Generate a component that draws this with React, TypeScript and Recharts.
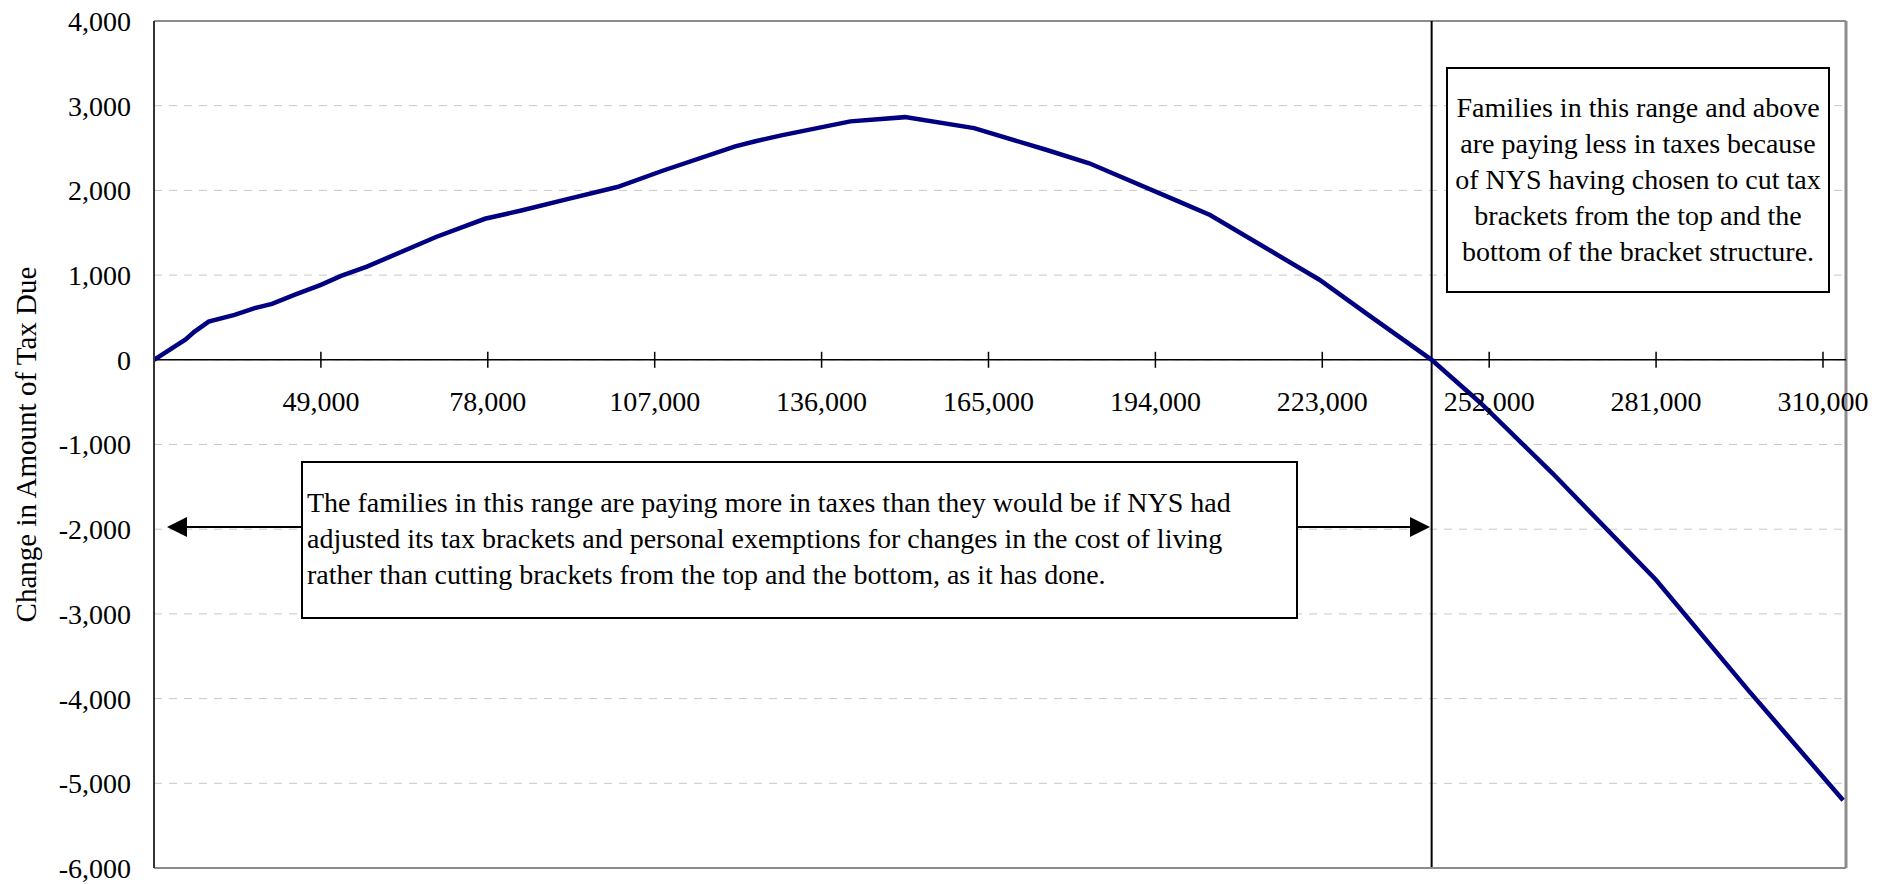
import React from 'react';
import { LineChart, Line, XAxis, YAxis, CartesianGrid, ReferenceLine } from 'recharts';

// income level and the change in tax due
const INCOME = [
  20000, 25500, 27000, 29500, 34000, 37500, 40500, 44500, 49000, 52500, 57000, 69000,
  77500, 84000, 92000, 100500, 108500, 121000, 124500, 129000, 141000, 150500, 162500,
  175000, 182500, 198000, 203500, 222500, 231000, 242000, 250500, 263000, 281000, 297000, 313500,
];
const TAX_CHANGE = [
  0, 240, 330, 450, 530, 610, 660, 770, 885, 990, 1100, 1450,
  1665, 1765, 1900, 2040, 2235, 2520, 2580, 2650, 2815, 2865, 2735,
  2480, 2320, 1870, 1710, 945, 530, 0, -510, -1340, -2600, -3900, -5200,
];

const X_TICKS = [49000, 78000, 107000, 136000, 165000, 194000, 223000, 252000, 281000, 310000];
const Y_TICKS = [-6000, -5000, -4000, -3000, -2000, -1000, 0, 1000, 2000, 3000, 4000];
const X_DOMAIN = [20000, 314000];
const Y_DOMAIN = [-6000, 4000];
const BREAK_EVEN = 242000;

const Y_LABEL = 'Change in Amount of Tax Due';
const NOTE_RIGHT = [
  'Families in this range and above',
  'are paying less in taxes because',
  'of NYS having chosen to cut tax',
  'brackets from the top and the',
  'bottom of the bracket structure.',
];
const NOTE_LEFT = [
  'The families in this range are paying more in taxes than they would be if NYS had',
  'adjusted its tax brackets and personal exemptions for changes in the cost of living',
  'rather than cutting brackets from the top and the bottom, as it has done.',
];

const data = INCOME.map((income, i) => ({ income, tax: TAX_CHANGE[i] }));

const W = 1891;
const H = 884;
const MARGIN = { top: 21, right: 45, bottom: 0, left: 0 };
const Y_AXIS_W = 154;
const X_AXIS_H = 16;
const PLOT_TOP = MARGIN.top;
const PLOT_H = H - MARGIN.top - MARGIN.bottom - X_AXIS_H;
const ZERO_Y = PLOT_TOP + (PLOT_H * Y_DOMAIN[1]) / (Y_DOMAIN[1] - Y_DOMAIN[0]);

const FONT = "'Times New Roman', 'Liberation Serif', serif";
const fmt = (v: number) => v.toLocaleString('en-US');

// x axis sits on the zero line, so the ticks are drawn there
function XTick(props: any) {
  const { x, payload } = props;
  return (
    <g>
      <line x1={x} x2={x} y1={ZERO_Y - 8} y2={ZERO_Y + 8} stroke="#000" strokeWidth={1.5} />
      <text x={x} y={ZERO_Y + 42} textAnchor="middle" dominantBaseline="central" fontFamily={FONT} fontSize={28} fill="#000">
        {fmt(payload.value)}
      </text>
    </g>
  );
}

function Arrow({ from, to, y }: { from: number; to: number; y: number }) {
  const dir = Math.sign(to - from);
  const back = to - dir * 20;
  return (
    <g>
      <line x1={from} x2={back} y1={y} y2={y} stroke="#000" strokeWidth={2} />
      <polygon points={`${to},${y} ${back},${y - 10} ${back},${y + 10}`} fill="#000" />
    </g>
  );
}

export default function App() {
  return (
    <div style={{ position: 'absolute', left: 0, top: 0, width: W, height: H, background: '#fff' }}>
      <LineChart width={W} height={H} data={data} margin={MARGIN}>
        <CartesianGrid vertical={false} stroke="#c8c8c8" strokeDasharray="8 7" />
        <XAxis
          dataKey="income"
          type="number"
          domain={X_DOMAIN}
          ticks={X_TICKS}
          interval={0}
          height={X_AXIS_H}
          axisLine={{ stroke: '#8c8c8c', strokeWidth: 2 }}
          tickLine={false}
          tick={<XTick />}
        />
        <YAxis
          type="number"
          domain={Y_DOMAIN}
          ticks={Y_TICKS}
          interval={0}
          width={Y_AXIS_W}
          axisLine={{ stroke: '#333', strokeWidth: 2 }}
          tickLine={false}
          tickSize={0}
          tickMargin={23}
          tickFormatter={fmt}
          tick={{ fill: '#000', fontSize: 28, fontFamily: FONT }}
        />
        <ReferenceLine y={Y_DOMAIN[1]} stroke="#8c8c8c" strokeWidth={2} />
        <ReferenceLine x={X_DOMAIN[1]} stroke="#8c8c8c" strokeWidth={3} />
        <ReferenceLine y={0} stroke="#000" strokeWidth={1.5} />
        <ReferenceLine x={BREAK_EVEN} stroke="#000" strokeWidth={2} />
        <Line
          type="linear"
          dataKey="tax"
          stroke="#000080"
          strokeWidth={4.5}
          dot={false}
          activeDot={false}
          isAnimationActive={false}
        />
      </LineChart>

      <svg width={W} height={H} style={{ position: 'absolute', left: 0, top: 0, pointerEvents: 'none' }}>
        <text
          transform={`translate(26,${PLOT_TOP + PLOT_H / 2}) rotate(-90)`}
          textAnchor="middle"
          dominantBaseline="central"
          fontFamily={FONT}
          fontSize={29}
          fill="#000"
        >
          {Y_LABEL}
        </text>

        <rect x={1447} y={68} width={382} height={224} fill="#fff" stroke="#000" strokeWidth={2} />
        {NOTE_RIGHT.map((t, i) => (
          <text key={i} x={1638} y={117 + i * 36} textAnchor="middle" fontFamily={FONT} fontSize={28} fill="#000">
            {t}
          </text>
        ))}

        <rect x={302} y={462} width={995} height={156} fill="#fff" stroke="#000" strokeWidth={2} />
        {NOTE_LEFT.map((t, i) => (
          <text key={i} x={307} y={512 + i * 36} textAnchor="start" fontFamily={FONT} fontSize={28} fill="#000">
            {t}
          </text>
        ))}
        <Arrow from={301} to={167} y={527} />
        <Arrow from={1298} to={1430} y={527} />
      </svg>
    </div>
  );
}
